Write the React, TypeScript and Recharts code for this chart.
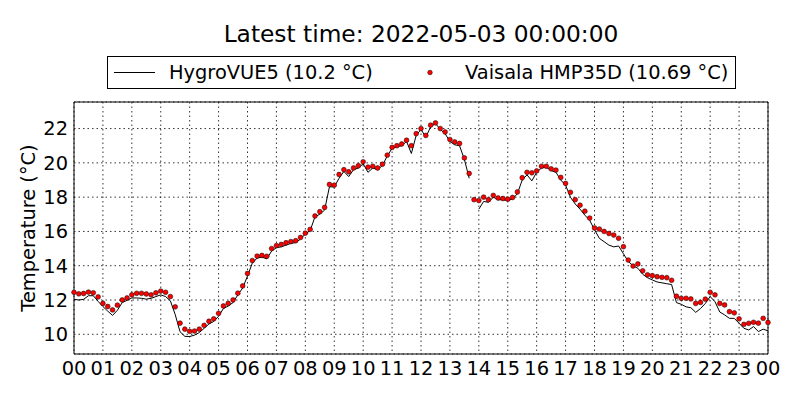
import React from "react";
import {
  LineChart,
  Line,
  XAxis,
  YAxis,
  CartesianGrid,
  Legend,
  ReferenceArea,
} from "recharts";

// 10-minute readings, 2022-05-02 00:00 .. 2022-05-03 00:00 (°C)
const hygroVue5: (number | null)[] = [
  12.04, 12.0, 12.04, 12.25, 12.25, 11.92,
  11.62, 11.35, 11.1, 11.4, 11.85, 11.98,
  12.12, 12.12, 12.1, 12.05, 12.1, 12.2,
  12.3, 12.2, 11.95, 11.15, 10.15, 9.88,
  9.87, 9.95, 10.1, 10.35, 10.6, 10.75,
  11.05, 11.5, 11.65, 11.85, 12.3, 12.7,
  13.4, 14.15, 14.45, 14.5, 14.4, 14.85,
  15.05, 15.1, 15.2, 15.3, 15.35, 15.55,
  15.85, 16.05, 16.85, 17.0, 17.25, 18.6,
  18.6, 19.1, 19.5, 19.2, 19.6, 19.7,
  19.95, 19.45, 19.7, 19.6, 19.85, 20.4,
  20.85, 20.95, 21.0, 21.25, 20.55, 21.6,
  21.95, 21.5, 22.1, 22.3, 21.95, 21.7,
  21.25, 21.05, 21.0, 20.2, 19.1, null,
  17.3, 17.75, 17.7, 18.0, 17.85, 17.85,
  17.8, 17.9, 18.2, 19.0, 19.3, 18.95,
  19.45, 19.7, 19.75, 19.55, 19.45, 19.0,
  18.7, 18.0, 17.6, 17.3, 16.95, 16.65,
  16.1, 15.6, 15.4, 15.2, 15.1, 15.15,
  14.7, 14.25, 14.0, 13.85, 13.5, 13.3,
  13.17, 13.05, 13.0, 12.95, 12.9, 11.85,
  11.75, 11.6, 11.55, 11.28, 11.5, 11.8,
  12.2, 11.9, 11.3, 11.13, 10.93, 10.93,
  10.64, 10.35, 10.25, 10.45, 10.16, 10.3,
  10.2,
];

const hmp35d: number[] = [
  12.45, 12.36, 12.38, 12.46, 12.42, 12.18,
  11.8, 11.62, 11.42, 11.7, 12.0, 12.12,
  12.3, 12.39, 12.39, 12.35, 12.3, 12.42,
  12.52, 12.45, 12.2, 11.6, 10.65, 10.3,
  10.17, 10.19, 10.3, 10.52, 10.76, 10.9,
  11.22, 11.65, 11.8, 12.0, 12.4, 12.82,
  13.55, 14.3, 14.56, 14.6, 14.55, 15.0,
  15.17, 15.24, 15.34, 15.41, 15.46, 15.65,
  15.9, 16.12, 16.9, 17.15, 17.4, 18.74,
  18.7, 19.32, 19.6, 19.48, 19.7, 19.83,
  20.06, 19.75, 19.8, 19.7, 19.92, 20.45,
  20.9, 21.0, 21.1, 21.32, 21.0, 21.7,
  22.0, 21.6, 22.2, 22.33, 22.0, 21.8,
  21.36, 21.22, 21.13, 20.29, 19.38, 17.85,
  17.8, 18.0, 17.85, 18.1, 17.95, 17.92,
  17.88, 17.98, 18.3, 19.13, 19.45, 19.42,
  19.53, 19.8, 19.8, 19.65, 19.58, 19.15,
  18.8, 18.28, 17.85, 17.53, 17.18, 16.78,
  16.2, 16.14, 16.0, 15.88, 15.79, 15.6,
  15.11, 14.33, 13.98, 14.1, 13.7, 13.47,
  13.42, 13.36, 13.32, 13.3, 13.15, 12.22,
  12.1, 12.1, 12.06, 11.8, 11.86, 12.05,
  12.45, 12.3, 11.8, 11.71, 11.32, 11.25,
  10.9, 10.58, 10.64, 10.7, 10.65, 10.93,
  10.69,
];

const hourTicks = [0, 1, 2, 3, 4, 5, 6, 7, 8, 9, 10, 11, 12, 13, 14, 15, 16, 17, 18, 19, 20, 21, 22, 23, 24];
const tempTicks = [10, 12, 14, 16, 18, 20, 22];
const tempDomain = [8.85, 23.55];

const data = hmp35d.map((v, i) => ({
  hour: i / 6,
  hygro: hygroVue5[i],
  hmp: v,
}));

const FONT = "'DejaVu Sans', sans-serif";
const lastHygro = hygroVue5[hygroVue5.length - 1];
const lastHmp = hmp35d[hmp35d.length - 1];

function LegendBox() {
  return (
    <div
      style={{
        position: "relative",
        boxSizing: "border-box",
        width: 629,
        height: 33,
        border: "1px solid #000",
        background: "#fff",
        fontFamily: FONT,
        fontSize: 19.4,
        color: "#000",
        whiteSpace: "nowrap",
      }}
    >
      <svg width={627} height={31} style={{ position: "absolute", left: 0, top: 0 }}>
        <line x1={6} x2={47} y1={15.5} y2={15.5} stroke="#000" strokeWidth={1} />
        <circle cx={322} cy={15.5} r={2.3} fill="#ff0000" stroke="#000" strokeWidth={0.5} />
      </svg>
      <span style={{ position: "absolute", left: 61, top: 0, lineHeight: "31px" }}>
        HygroVUE5 ({lastHygro} °C)
      </span>
      <span style={{ position: "absolute", left: 357, top: 0, lineHeight: "31px" }}>
        Vaisala HMP35D ({lastHmp} °C)
      </span>
    </div>
  );
}

export default function App() {
  return (
    <div
      style={{
        position: "absolute",
        left: 0,
        top: 0,
        width: 800,
        height: 400,
        background: "#fff",
        fontFamily: FONT,
      }}
    >
      <div
        style={{
          position: "absolute",
          left: 74,
          width: 694,
          top: 22,
          textAlign: "center",
          fontSize: 23.3,
          lineHeight: "23.3px",
          color: "#000",
        }}
      >
        Latest time: 2022-05-03 00:00:00
      </div>
      <LineChart
        width={800}
        height={400}
        data={data}
        margin={{ top: 102, right: 32, left: 0, bottom: 0 }}
        style={{ fontFamily: FONT }}
      >
        <CartesianGrid
          stroke="#000"
          strokeWidth={0.8}
          strokeDasharray="1.5 3"
        />
        <XAxis
          dataKey="hour"
          type="number"
          domain={[0, 24]}
          ticks={hourTicks}
          interval={0}
          height={46}
          axisLine={false}
          tickLine={false}
          tickSize={0}
          tickMargin={7}
          tick={{ fill: "#000", fontSize: 19.4 }}
          tickFormatter={(h: number) => String(h % 24).padStart(2, "0")}
        />
        <YAxis
          type="number"
          domain={tempDomain}
          ticks={tempTicks}
          allowDataOverflow
          width={74}
          axisLine={false}
          tickLine={false}
          tickSize={0}
          tickMargin={6}
          tick={{ fill: "#000", fontSize: 19.4 }}
          label={{
            value: "Temperature (°C)",
            angle: -90,
            position: "insideLeft",
            offset: 28,
            style: { textAnchor: "middle", fill: "#000", fontSize: 19.4 },
          }}
        />
        <Legend
          verticalAlign="middle"
          align="center"
          wrapperStyle={{ top: 56, left: 107, width: 629, height: 33 }}
          content={() => <LegendBox />}
        />
        <Line
          dataKey="hygro"
          name="HygroVUE5"
          type="linear"
          stroke="#000"
          strokeWidth={1}
          dot={false}
          activeDot={false}
          connectNulls={false}
          isAnimationActive={false}
        />
        <Line
          dataKey="hmp"
          name="Vaisala HMP35D"
          type="linear"
          stroke="none"
          dot={{ r: 2.4, fill: "#ff0000", stroke: "#000", strokeWidth: 0.5 }}
          activeDot={false}
          isAnimationActive={false}
        />
        <ReferenceArea
          x1={0}
          x2={24}
          y1={tempDomain[0]}
          y2={tempDomain[1]}
          fill="none"
          stroke="#000"
          strokeWidth={1}
        />
      </LineChart>
    </div>
  );
}
